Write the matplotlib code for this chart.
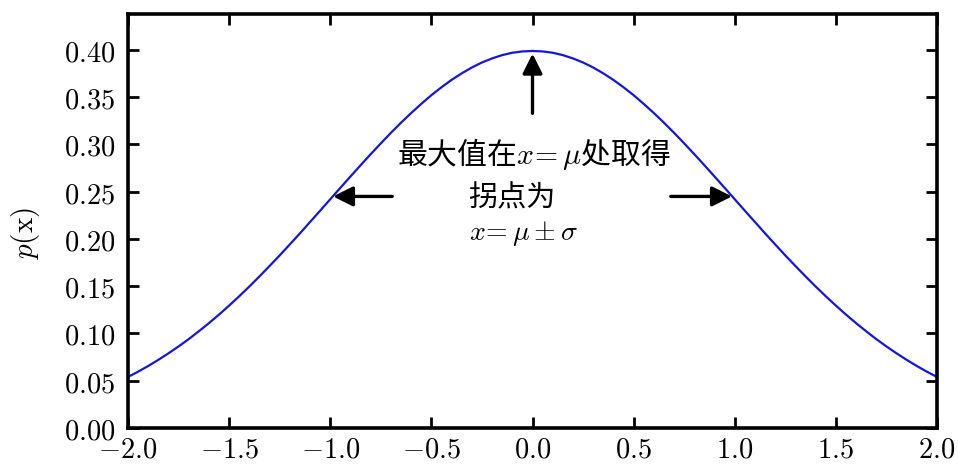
import matplotlib
matplotlib.use("Agg")
import matplotlib.pyplot as plt
from matplotlib.ticker import FormatStrFormatter

plt.rcParams["font.family"] = ["Noto Sans CJK SC", "DejaVu Sans"]
plt.rcParams["mathtext.fontset"] = "cm"

# density, x = -2.00 ... 2.00 step 0.05
x_vals = [-2.00, -1.95, -1.90, -1.85, -1.80, -1.75, -1.70, -1.65, -1.60, -1.55,
          -1.50, -1.45, -1.40, -1.35, -1.30, -1.25, -1.20, -1.15, -1.10, -1.05,
          -1.00, -0.95, -0.90, -0.85, -0.80, -0.75, -0.70, -0.65, -0.60, -0.55,
          -0.50, -0.45, -0.40, -0.35, -0.30, -0.25, -0.20, -0.15, -0.10, -0.05,
          0.00,
          0.05, 0.10, 0.15, 0.20, 0.25, 0.30, 0.35, 0.40, 0.45, 0.50,
          0.55, 0.60, 0.65, 0.70, 0.75, 0.80, 0.85, 0.90, 0.95, 1.00,
          1.05, 1.10, 1.15, 1.20, 1.25, 1.30, 1.35, 1.40, 1.45, 1.50,
          1.55, 1.60, 1.65, 1.70, 1.75, 1.80, 1.85, 1.90, 1.95, 2.00]
p_vals = [0.0540, 0.0596, 0.0656, 0.0721, 0.0790, 0.0863, 0.0940, 0.1023, 0.1109, 0.1200,
          0.1295, 0.1394, 0.1497, 0.1604, 0.1714, 0.1826, 0.1942, 0.2059, 0.2179, 0.2299,
          0.2420, 0.2541, 0.2661, 0.2780, 0.2897, 0.3011, 0.3123, 0.3230, 0.3332, 0.3429,
          0.3521, 0.3605, 0.3683, 0.3752, 0.3814, 0.3867, 0.3910, 0.3945, 0.3970, 0.3984,
          0.3989,
          0.3984, 0.3970, 0.3945, 0.3910, 0.3867, 0.3814, 0.3752, 0.3683, 0.3605, 0.3521,
          0.3429, 0.3332, 0.3230, 0.3123, 0.3011, 0.2897, 0.2780, 0.2661, 0.2541, 0.2420,
          0.2299, 0.2179, 0.2059, 0.1942, 0.1826, 0.1714, 0.1604, 0.1497, 0.1394, 0.1295,
          0.1200, 0.1109, 0.1023, 0.0940, 0.0863, 0.0790, 0.0721, 0.0656, 0.0596, 0.0540]
x_ticks = [-2.0, -1.5, -1.0, -0.5, 0.0, 0.5, 1.0, 1.5, 2.0]
y_ticks = [0.00, 0.05, 0.10, 0.15, 0.20, 0.25, 0.30, 0.35, 0.40]

fig = plt.figure(figsize=(9.58, 4.66), dpi=100)
ax = fig.add_axes([128 / 958, 1 - 428 / 466, 809 / 958, 414 / 466])

ax.plot(x_vals, p_vals, color="#1515e0", linewidth=1.6)
ax.set_xlim(-2.0, 2.0)
ax.set_ylim(0, 0.438)
ax.set_xticks(x_ticks)
ax.set_yticks(y_ticks)
ax.xaxis.set_major_formatter(FormatStrFormatter(r"$%.1f$"))
ax.yaxis.set_major_formatter(FormatStrFormatter(r"$%.2f$"))
ax.tick_params(direction="in", length=8, width=2, labelsize=20.5,
               top=True, right=True)
ax.tick_params(axis="x", pad=5)
ax.tick_params(axis="y", pad=9)
for s in ax.spines.values():
    s.set_linewidth(2.6)
ax.set_ylabel(r"$p(\mathrm{x})$", fontsize=21)
ax.yaxis.set_label_coords(-0.106, 0.47)

arrow = dict(arrowstyle="-|>", color="black", lw=2.4, mutation_scale=30)
ax.annotate("", xy=(0, 0.399), xytext=(0, 0.330), arrowprops=arrow)
ax.annotate("", xy=(-1.0, 0.245), xytext=(-0.68, 0.245), arrowprops=arrow)
ax.annotate("", xy=(1.0, 0.245), xytext=(0.67, 0.245), arrowprops=arrow)

ax.text(0.005, 0.290, r"最大值在$x\!=\mu$处取得", fontsize=21.5, ha="center", va="center")
ax.text(-0.10, 0.243, "拐点为", fontsize=21, ha="center", va="center")
ax.text(-0.045, 0.206, r"$x\!=\mu\pm\sigma$", fontsize=20, ha="center", va="center")

fig.savefig("out.png", dpi=100)
